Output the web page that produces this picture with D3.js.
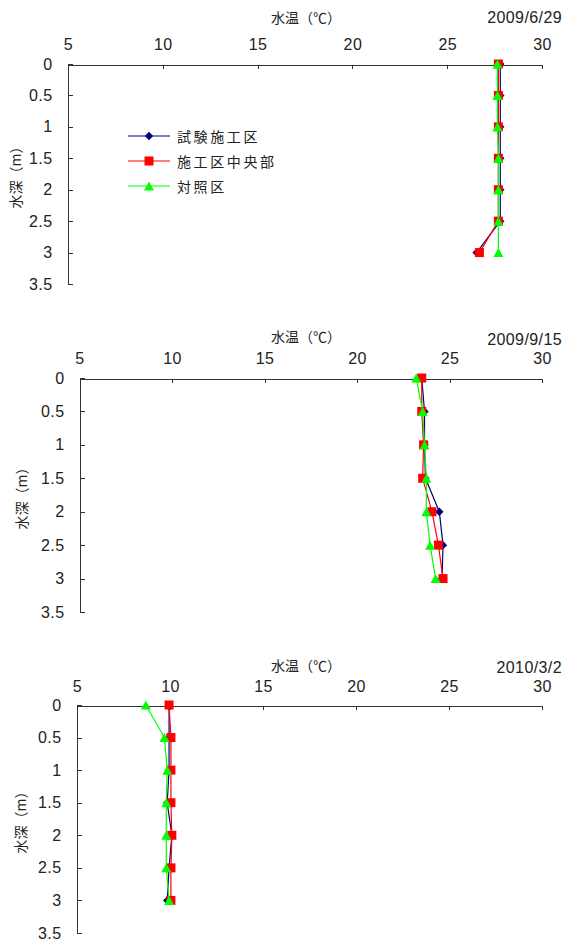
<!DOCTYPE html>
<html>
<head>
<meta charset="utf-8">
<script src="https://cdn.jsdelivr.net/npm/d3@7"></script>
<style>
  body { margin: 0; background: #fff; }
  .num { font-family: "Liberation Sans", sans-serif; font-size: 16px; letter-spacing: 0.4px; }
  .jp { font-family: "Noto Sans CJK JP", sans-serif; font-size: 14px; }
</style>
</head>
<body>
<div id="chart"></div>
<script>
var depths = [0, 0.5, 1, 1.5, 2, 2.5, 3];
var depthTicks = [0, 0.5, 1, 1.5, 2, 2.5, 3, 3.5];
var tempTicks = [5, 10, 15, 20, 25, 30];
var seriesNames = ["試験施工区", "施工区中央部", "対照区"];
var surveyDates = ["2009/6/29", "2009/9/15", "2010/3/2"];

// water temperature per series, in the order of seriesNames
var temps20090629 = [
    [27.8, 27.8, 27.8, 27.8, 27.8, 27.8, 26.55],
    [27.7, 27.7, 27.7, 27.7, 27.7, 27.7, 26.7],
    [27.65, 27.65, 27.65, 27.7, 27.7, 27.7, 27.7]
];
var temps20090915 = [
    [23.5, 23.65, 23.65, 23.7, 24.45, 24.65, 24.6],
    [23.5, 23.5, 23.6, 23.55, 24.05, 24.4, 24.65],
    [23.2, 23.55, 23.65, 23.75, 23.75, 23.95, 24.25]
];
var temps20100302 = [
    [9.95, 9.95, 9.95, 9.85, 10.1, 9.95, 9.85],
    [9.95, 10.05, 10.05, 10.05, 10.1, 10.05, 10.05],
    [8.7, 9.7, 9.85, 9.8, 9.8, 9.8, 9.95]
];
var allTemps = [temps20090629, temps20090915, temps20100302];

var consts = { width: 565, height: 944 };

var seriesStyle = [
    { color: "#000080", shape: "diamond", size: 4.2 },
    { color: "#ff0000", shape: "square", size: 4.5 },
    { color: "#00ff00", shape: "triangle", size: 5 }
];

var panels = [
    { left: 68, right: 542, top: 64, bottom: 284, titleY: 17, tickPad: 15, labelX: 15, dateY: 17, legend: true },
    { left: 79.5, right: 542, top: 378, bottom: 612, titleY: 336, tickPad: 15, labelX: 21, dateY: 339 },
    { left: 77, right: 542, top: 705, bottom: 933, titleY: 665, tickPad: 14, labelX: 20, dateY: 667 }
];

var svg = d3.select("#chart").append("svg")
    .attr("width", consts.width)
    .attr("height", consts.height);

/**
 * Path of a marker centred on (x, y).
 */
function markerPath(shape, x, y, r) {
    if (shape === "diamond") {
        return "M" + x + "," + (y - r) + "L" + (x + r) + "," + y +
            "L" + x + "," + (y + r) + "L" + (x - r) + "," + y + "Z";
    }
    if (shape === "triangle") {
        return "M" + x + "," + (y - r * 0.9) + "L" + (x + r) + "," + (y + r * 0.9) +
            "L" + (x - r) + "," + (y + r * 0.9) + "Z";
    }
    return "M" + (x - r) + "," + (y - r) + "h" + (2 * r) + "v" + (2 * r) + "h" + (-2 * r) + "Z";
}

function drawPanel(p, temps, date) {
    var g = svg.append("g");
    var x = d3.scaleLinear().domain([5, 30]).range([p.left, p.right]);
    var y = d3.scaleLinear().domain([0, 3.5]).range([p.top, p.bottom]);
    var plain = function (d) { return String(d); };

    var xAxis = g.append("g")
        .attr("transform", "translate(0," + (Math.round(p.top) + 0.5) + ")")
        .call(d3.axisTop(x).tickValues(tempTicks).tickFormat(plain)
            .tickSize(-4).tickSizeOuter(0).tickPadding(p.tickPad));
    var yAxis = g.append("g")
        .attr("transform", "translate(" + (Math.round(p.left) + 0.5) + ",0)")
        .call(d3.axisLeft(y).tickValues(depthTicks).tickFormat(plain)
            .tickSize(-4).tickSizeOuter(0).tickPadding(16));

    [xAxis, yAxis].forEach(function (a) {
        a.attr("font-family", null).attr("font-size", null).attr("color", "#222");
        a.selectAll("text").attr("class", "num");
        a.selectAll("path, line").attr("stroke", "#333").attr("shape-rendering", "crispEdges");
    });
    // let the y domain meet the top axis exactly
    yAxis.select(".domain").attr("d", "M0," + Math.round(p.top) + "V" + (Math.round(p.bottom) + 0.5));

    g.append("text")
        .attr("class", "jp")
        .attr("x", 306)
        .attr("y", p.titleY)
        .attr("text-anchor", "middle")
        .attr("dominant-baseline", "central")
        .attr("fill", "#222")
        .text("水温（℃）");

    g.append("text")
        .attr("class", "num")
        .attr("x", 562)
        .attr("y", p.dateY)
        .attr("text-anchor", "end")
        .attr("dominant-baseline", "central")
        .attr("fill", "#222")
        .text(date);

    g.append("text")
        .attr("class", "jp")
        .attr("transform", "translate(" + p.labelX + "," + ((p.top + p.bottom) / 2) + ") rotate(-90)")
        .attr("text-anchor", "middle")
        .attr("dominant-baseline", "central")
        .attr("fill", "#222")
        .text("水深（m）");

    var line = d3.line()
        .x(function (d) { return x(d.t); })
        .y(function (d) { return y(d.depth); });

    temps.forEach(function (values, i) {
        var st = seriesStyle[i];
        var pts = values.map(function (t, k) { return { t: t, depth: depths[k] }; });
        var s = g.append("g").attr("class", "series");
        s.append("path")
            .datum(pts)
            .attr("d", line)
            .attr("fill", "none")
            .attr("stroke", st.color)
            .attr("stroke-width", 1.2);
        s.selectAll(".mark")
            .data(pts)
            .enter()
            .append("path")
            .attr("class", "mark")
            .attr("d", function (d) { return markerPath(st.shape, x(d.t), y(d.depth), st.size); })
            .attr("fill", st.color);
    });

    if (p.legend) {
        var legend = g.append("g").attr("transform", "translate(128,136)");
        var row = legend.selectAll(".row")
            .data(seriesNames)
            .enter()
            .append("g")
            .attr("class", "row")
            .attr("transform", function (d, i) { return "translate(0," + (i * 25) + ")"; });
        row.append("line")
            .attr("x1", 0).attr("x2", 42)
            .attr("stroke", function (d, i) { return seriesStyle[i].color; })
            .attr("stroke-width", 1.2);
        row.append("path")
            .attr("d", function (d, i) { return markerPath(seriesStyle[i].shape, 21, 0, seriesStyle[i].size); })
            .attr("fill", function (d, i) { return seriesStyle[i].color; });
        row.append("text")
            .attr("class", "jp")
            .attr("x", 49)
            .attr("dominant-baseline", "central")
            .attr("letter-spacing", "2.6px")
            .attr("fill", "#222")
            .text(function (d) { return d; });
    }
}

panels.forEach(function (p, i) {
    drawPanel(p, allTemps[i], surveyDates[i]);
});
</script>
</body>
</html>
